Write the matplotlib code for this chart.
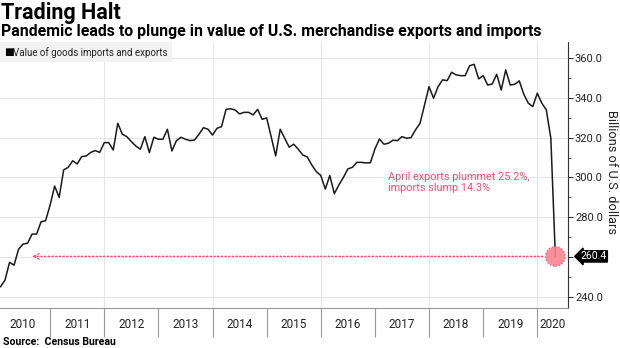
import numpy as np
import matplotlib.pyplot as plt
from matplotlib.ticker import FixedLocator, MultipleLocator, NullFormatter, FixedFormatter
import matplotlib.transforms as mtransforms

plt.rcParams['font.family'] = ['Roboto', 'DejaVu Sans']

# monthly value of goods imports + exports, billions of US dollars (Jan 2010 - Apr 2020)
v2010 = [245.2, 248.5, 257.4, 256.0, 264.0, 266.6, 267.0, 271.6, 271.6, 277.8, 278.3, 286.2]
v2011 = [295.7, 290.0, 303.8, 305.1, 308.4, 306.8, 310.5, 310.8, 312.6, 313.5, 312.6, 317.5]
v2012 = [317.5, 313.8, 327.2, 321.7, 320.5, 318.0, 315.8, 314.2, 320.5, 312.5, 320.2, 319.2]
v2013 = [319.2, 324.2, 313.3, 318.5, 320.2, 319.2, 318.5, 318.8, 321.7, 325.0, 324.2, 321.3]
v2014 = [324.7, 325.5, 334.2, 334.5, 333.9, 331.9, 332.7, 332.7, 331.4, 334.2, 329.2, 329.9]
v2015 = [320.5, 310.8, 324.2, 319.7, 315.2, 316.7, 314.2, 311.3, 310.3, 306.3, 303.0, 301.0]
v2016 = [294.2, 301.0, 291.9, 296.2, 300.0, 304.3, 305.1, 307.6, 307.6, 307.3, 307.4, 314.3]
v2017 = [319.3, 316.7, 317.2, 318.7, 318.5, 320.5, 319.7, 320.0, 323.9, 327.2, 336.4, 345.6]
v2018 = [339.8, 345.6, 349.0, 348.6, 352.8, 351.5, 351.1, 351.1, 356.1, 356.8, 349.5, 351.1]
v2019 = [346.4, 346.9, 351.8, 343.9, 354.0, 346.4, 346.8, 348.5, 341.8, 337.3, 335.6, 342.3]
v2020 = [337.3, 333.9, 319.7, 260.4]

values = np.array(v2010 + v2011 + v2012 + v2013 + v2014 + v2015 + v2016 +
                  v2017 + v2018 + v2019 + v2020)
# month-end positions as fractional years
t = 2010 + (np.arange(len(values)) + 1) / 12.0

years = list(range(2010, 2021))
yticks = [240, 260, 280, 300, 320, 340, 360]
last_val = values[-1]

RED = '#f0506e'

fig = plt.figure(figsize=(6.2, 3.48), dpi=100)
ax = fig.add_axes([0.0, 1 - 308 / 348, 568 / 620, (308 - 42) / 348])

ax.plot(t, values, color='#1a1a1a', lw=1.1, zorder=4)

ax.set_xlim(2010.074, 2020.567)
ax.set_ylim(234.5, 368.0)

# grid
for yv in yticks:
    ax.axhline(yv, color='#e6e6e6', lw=0.8, zorder=0)
for xv in [2012, 2014, 2016, 2018, 2020]:
    ax.axvline(xv, color='#e6e6e6', lw=0.8, zorder=0)

# right-hand y axis; the 260 label sits under the value tag
ax.yaxis.tick_right()
ax.set_yticks(yticks)
ax.set_yticklabels(['' if y == 260 else f'{y:.1f}' for y in yticks])
ax.yaxis.set_minor_locator(MultipleLocator(10))
ax.tick_params(axis='y', which='major', length=3.5, width=0.8, color='#333333',
               labelsize=8, labelcolor='#222222', pad=1.5)
ax.tick_params(axis='y', which='minor', length=2, width=0.6, color='#333333')
fig.text(612 / 620, 1 - 172 / 348, 'Billions of U.S. dollars', rotation=-90,
         fontsize=9.2, color='#222222', ha='center', va='center')

# bottom axis: year separators as long ticks, labels centred in each year
ax.xaxis.set_major_locator(FixedLocator(years[1:]))
ax.xaxis.set_major_formatter(NullFormatter())
centres = [y + 0.5 for y in years[:-1]] + [(2020 + 2020.567) / 2]
ax.xaxis.set_minor_locator(FixedLocator(centres))
ax.xaxis.set_minor_formatter(FixedFormatter([str(y) for y in years]))
ax.tick_params(axis='x', which='major', length=21, width=0.8, color='#999999')
ax.tick_params(axis='x', which='minor', length=0, labelsize=8.5,
               labelcolor='#222222', pad=7)

for side in ['top', 'left']:
    ax.spines[side].set_visible(False)
ax.spines['bottom'].set_color('#999999')
ax.spines['bottom'].set_linewidth(0.8)
ax.spines['right'].set_color('#333333')
ax.spines['right'].set_linewidth(0.8)

# highlighted April 2020 reading
ax.annotate('', xy=(2010.665, last_val), xytext=(t[-1], last_val),
            arrowprops=dict(arrowstyle='->', color=RED, lw=1.0, ls=':',
                            shrinkA=9, shrinkB=0, mutation_scale=10),
            zorder=3)
ax.scatter([t[-1]], [last_val], s=200, facecolor='#f7858f', edgecolor=RED,
           linewidths=0.9, linestyle=':', alpha=0.9, zorder=5)
ax.text(2017.25, 303.0, 'April exports plummet 25.2%,\nimports slump 14.3%',
        color=RED, fontsize=7.8, ha='left', va='top', linespacing=1.2)

# value tag on the axis
trans = mtransforms.blended_transform_factory(ax.transAxes, ax.transData)
ax.text(1.022, last_val, f'{last_val:.1f}', transform=trans, color='white',
        fontsize=7.6, ha='left', va='center', clip_on=False, zorder=6,
        bbox=dict(boxstyle='larrow,pad=0.06', fc='black', ec='black'))

# legend chip
fig.patches.append(plt.Rectangle((0, 1 - 62 / 348), 172 / 620, 20 / 348,
                                 transform=fig.transFigure, fc='#f2f2f2',
                                 ec='none', zorder=1))
fig.text(4 / 620, 1 - 52.5 / 348, '\u25a0', fontsize=7.5, va='center',
         color='black', family=['DejaVu Sans'])
fig.text(13 / 620, 1 - 52.5 / 348, 'Value of goods imports and exports',
         fontsize=7, va='center', color='#222222')

# titles and source
fig.text(1 / 620, 1 - 2 / 348, 'Trading Halt', fontsize=15.5, fontweight='bold',
         va='top', color='black')
fig.text(1 / 620, 1 - 24 / 348,
         'Pandemic leads to plunge in value of U.S. merchandise exports and imports',
         fontsize=11.4, fontweight='bold', va='top', color='black')
fig.text(3 / 620, 1 - 345 / 348, 'Source:  Census Bureau', fontsize=7.6,
         fontweight='bold', va='baseline', color='black')

fig.savefig('out.png', dpi=100)
